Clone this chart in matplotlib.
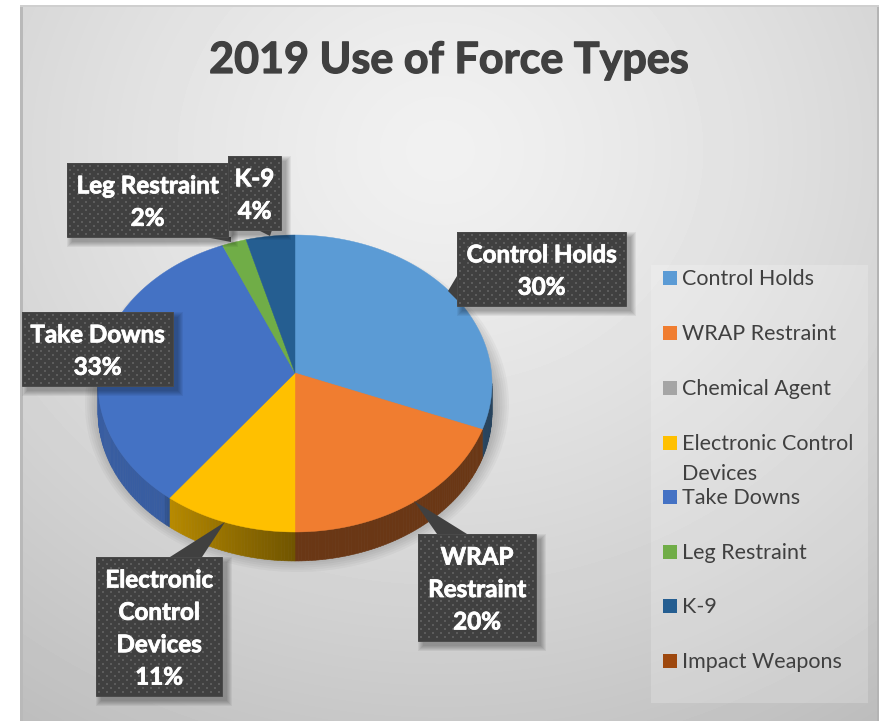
import numpy as np
import matplotlib
matplotlib.use("Agg")
import matplotlib.pyplot as plt
import matplotlib.patheffects as pe
from matplotlib.patches import Polygon, Rectangle, Ellipse
from matplotlib.colors import to_rgb

plt.rcParams["font.family"] = ["Lato", "DejaVu Sans"]

title = "2019 Use of Force Types"
categories = ["Control Holds", "WRAP Restraint", "Chemical Agent",
              "Electronic Control Devices", "Take Downs", "Leg Restraint",
              "K-9", "Impact Weapons"]
values = [30, 20, 0, 11, 33, 2, 4, 0]
colors = ["#5B9BD5", "#F07D30", "#A5A5A5", "#FFC000",
          "#4472C4", "#70AD47", "#255E91", "#9E480E"]
label_lines = [["Control Holds"], ["WRAP", "Restraint"], None,
               ["Electronic", "Control", "Devices"], ["Take Downs"],
               ["Leg Restraint"], ["K-9"], None]

W, H = 889, 721
fig = plt.figure(figsize=(W / 100, H / 100), dpi=100, facecolor="white")
ax = fig.add_axes([0, 0, 1, 1])


def background():
    yy, xx = np.mgrid[5:H, 20:879]
    d = np.hypot((xx - 440) / 900, (yy - 150) / 800)
    grey = np.clip(0.945 - 0.25 * d ** 1.3, 0, 1)
    ax.imshow(grey, cmap="gray", vmin=0, vmax=1, extent=(20, 879, H, 5),
              interpolation="bilinear", zorder=0, aspect="auto")
    ax.add_patch(Rectangle((20, 5), 2.5, H - 5, fc="#b9b9b9", ec="none", zorder=1))
    ax.add_patch(Rectangle((876.5, 5), 2.5, H - 5, fc="#b4b4b4", ec="none", zorder=1))
    ax.add_patch(Rectangle((20, 5), 859, 2, fc="#cfcfcf", ec="none", zorder=1))


def rim(theta, cx=295, cy=383.5, rx=197, ry=148.5):
    # clockwise from twelve o'clock, squashed for the tilted view
    return cx + rx * np.sin(theta), cy - ry * np.cos(theta)


def side_shade(deg):
    if deg < 180:
        return 0.44
    if deg < 222:
        return 0.44 + (deg - 180) / 42 * 0.3
    return 0.82


def draw_pie():
    depth = 29
    for i in range(14):
        ax.add_patch(Ellipse((297, 404), 2 * (212 - i * 2.2), 2 * (168 - i * 2.2),
                             fc="black", ec="none", alpha=0.03, zorder=2))

    edges = np.cumsum([0] + values) / sum(values) * 360
    for k, color in enumerate(colors):
        a0, a1 = edges[k], edges[k + 1]
        if a1 <= a0:
            continue
        # side wall, only the part facing the viewer
        lo, hi = max(a0, 90), min(a1, 270)
        if hi > lo:
            steps = np.linspace(lo, hi, int(hi - lo) + 2)
            for s0, s1 in zip(steps[:-1], steps[1:]):
                x0, y0 = rim(np.radians(s0))
                x1, y1 = rim(np.radians(s1))
                shade = np.array(to_rgb(color)) * side_shade((s0 + s1) / 2)
                ax.fill([x0, x1, x1, x0], [y0, y1, y1 + depth, y0 + depth],
                        color=tuple(shade), lw=0.4, zorder=3)
        # top face, apex sits above the ellipse centre
        th = np.radians(np.linspace(a0, a1, max(int(a1 - a0) * 2, 4)))
        xs, ys = rim(th)
        ax.fill(np.r_[295, xs], np.r_[373, ys], color=color, lw=0.3, zorder=4)


def dots(x0, y0, x1, y1, z):
    nx, ny = int(x1 - x0), int(y1 - y0)
    tile = np.full((ny, nx), 0.25)
    for r in range(2, ny - 1, 4):
        off = 2 if (r // 4) % 2 else 6
        for c in range(off, nx - 1, 8):
            tile[r:r + 2, c:c + 2] = 0.36
    ax.imshow(tile, cmap="gray", vmin=0, vmax=1, extent=(x0, x1, y1, y0),
              interpolation="nearest", zorder=z, aspect="auto")


def callout(idx, box, pointer, z):
    x0, y0, x1, y1 = box
    for i in range(6):
        g = 6 - i
        ax.add_patch(Rectangle((x0 + 6 - g, y0 + 6 - g), x1 - x0 + 2 * g - 2, y1 - y0 + 2 * g - 2,
                               fc="black", ec="none", alpha=0.055, zorder=z))
    if pointer:
        ax.add_patch(Polygon(pointer, closed=True, fc="#404040", ec="none", zorder=z + 0.1))
    dots(x0, y0, x1, y1, z + 0.2)
    ax.add_patch(Rectangle((x0, y0), x1 - x0, y1 - y0, fc="none", ec="#4a4a4a", lw=0.7, zorder=z + 0.3))
    lines = label_lines[idx] + [f"{values[idx]}%"]
    step = 32.4
    mid = (y0 + y1) / 2 + 2
    for n, line in enumerate(lines):
        t = ax.text((x0 + x1) / 2, mid + (n - (len(lines) - 1) / 2) * step, line, color="white",
                    fontsize=17.4, fontweight="bold", ha="center", va="center", zorder=z + 0.4)
        t.set_path_effects([pe.withStroke(linewidth=0.6, foreground="white")])


def draw_legend():
    ax.add_patch(Rectangle((651, 265), 217, 438, fc="white", ec="none", alpha=0.2, zorder=2))
    rows = [278, 333, 388, 443, 497, 552, 606, 661]
    style = dict(color="#404040", fontsize=15.5, va="center", zorder=5)
    for color, name, y in zip(colors, categories, rows):
        ax.add_patch(Rectangle((663, y - 7), 14, 14, fc=color, ec="none", zorder=5))
        if name == "Electronic Control Devices":
            ax.text(682, y + 1, "Electronic Control", **style)
            ax.text(682, y + 31, "Devices", **style)
        else:
            ax.text(682, y + 1, name, **style)


background()
draw_pie()
draw_legend()

callout(0, (457, 232, 626, 306), [(457, 276), (448, 291), (457, 300)], 6)
callout(1, (418, 534, 536, 641), [(414, 501), (437, 534), (467, 534)], 6)
callout(3, (96, 557, 222, 696), [(225, 522), (170, 557), (202, 557)], 6)
callout(4, (22, 312, 173, 386), None, 6)
callout(5, (67, 163, 228, 237), [(205, 237), (231, 242), (231, 237)], 7)
callout(6, (228, 156, 281, 230), [(258, 230), (270, 236), (272, 230)], 8)

tt = ax.text(449, 60, title, color="#404040", fontsize=31, fontweight="bold",
             ha="center", va="center", zorder=5)
tt.set_path_effects([pe.withStroke(linewidth=0.9, foreground="#404040")])

ax.set_xlim(0, W)
ax.set_ylim(H, 0)
ax.axis("off")
fig.savefig("out.png", dpi=100, facecolor="white")
